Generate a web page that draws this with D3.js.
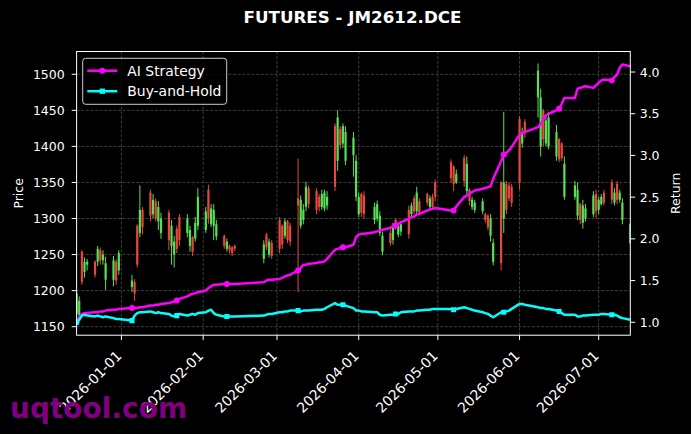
<!DOCTYPE html>
<html lang="en">
<head>
<meta charset="UTF-8">
<title>FUTURES - JM2612.DCE</title>
<script src="https://d3js.org/d3.v7.min.js"></script>
<style>
  html, body { margin: 0; padding: 0; background: #000; }
  svg { display: block; font-family: "DejaVu Sans", sans-serif; }
</style>
</head>
<body>
<svg id="chart" width="691" height="434"></svg>
<script>
// ---- data ----
const dates = [
  "2025-12-15","2025-12-16","2025-12-17","2025-12-18","2025-12-19","2025-12-22","2025-12-23","2025-12-24","2025-12-25","2025-12-26",
  "2025-12-29","2025-12-30","2025-12-31","2026-01-05","2026-01-06","2026-01-07","2026-01-08","2026-01-09","2026-01-12","2026-01-13",
  "2026-01-14","2026-01-15","2026-01-16","2026-01-19","2026-01-20","2026-01-21","2026-01-22","2026-01-23","2026-01-26","2026-01-27",
  "2026-01-28","2026-01-29","2026-01-30","2026-02-02","2026-02-03","2026-02-04","2026-02-05","2026-02-06","2026-02-09","2026-02-10",
  "2026-02-11","2026-02-12","2026-02-13","2026-02-24","2026-02-25","2026-02-26","2026-02-27","2026-03-02","2026-03-03","2026-03-04",
  "2026-03-05","2026-03-06","2026-03-09","2026-03-10","2026-03-11","2026-03-12","2026-03-13","2026-03-16","2026-03-17","2026-03-18",
  "2026-03-19","2026-03-20","2026-03-23","2026-03-24","2026-03-25","2026-03-26","2026-03-27","2026-03-30","2026-03-31","2026-04-01",
  "2026-04-02","2026-04-03","2026-04-07","2026-04-08","2026-04-09","2026-04-10","2026-04-13","2026-04-14","2026-04-15","2026-04-16",
  "2026-04-17","2026-04-20","2026-04-21","2026-04-22","2026-04-23","2026-04-24","2026-04-27","2026-04-28","2026-04-29","2026-04-30",
  "2026-05-06","2026-05-07","2026-05-08","2026-05-11","2026-05-12","2026-05-13","2026-05-14","2026-05-15","2026-05-18","2026-05-19",
  "2026-05-20","2026-05-21","2026-05-22","2026-05-25","2026-05-26","2026-05-27","2026-05-28","2026-05-29","2026-06-01","2026-06-02",
  "2026-06-03","2026-06-08","2026-06-09","2026-06-10","2026-06-11","2026-06-12","2026-06-15","2026-06-16","2026-06-17","2026-06-18",
  "2026-06-22","2026-06-23","2026-06-24","2026-06-25","2026-06-26","2026-06-29","2026-06-30","2026-07-01","2026-07-02","2026-07-03",
  "2026-07-06","2026-07-07","2026-07-08","2026-07-09","2026-07-10","2026-07-13"
];
const opens = [
  1168,1166,1254,1226,1236,1240,1240,1256,1242,1215, 1215,1240,1228,1205,1212,1290,1280,1312,1336,1306,
  1324,1296,1280,1308,1262,1250,1286,1302,1280,1262, 1274,1272,1290,1284,1340,1292,1290,1275,1276,1258,
  1262,1260,1262,1244,1278,1250,1266,1298,1290,1276, 1296,1290,1328,1290,1298,1316,1342,1338,1330,1316,
  1314,1318,1428,1380,1424,1404,1380,1388,1330,1306, 1334,1332,1298,1300,1280,1254,1280,1270,1298,1278,
  1282,1312,1306,1328,1310,1324,1334,1316,1330,1350, 1378,1372,1350,1384,1338,1340,1316,1312,1310,1306,
  1304,1276,1240,1350,1300,1348,1346,1344,1438,1404, 1434,1468,1400,1450,1404,1400,1386,1410,1404,1330,
  1330,1304,1320,1294,1300,1306,1334,1312,1320,1336, 1350,1322,1348,1326,1298,1266
];
const highs = [
  1200,1192,1256,1246,1244,1242,1262,1260,1256,1247, 1248,1244,1256,1222,1216,1292,1346,1316,1340,1334,
  1328,1324,1308,1312,1298,1276,1290,1306,1306,1290, 1276,1302,1342,1316,1347,1320,1320,1298,1278,1272,
  1264,1262,1264,1270,1280,1272,1270,1302,1292,1300, 1298,1294,1383,1332,1320,1351,1346,1342,1334,1340,
  1340,1338,1432,1450,1428,1432,1428,1420,1388,1336, 1336,1338,1322,1325,1310,1282,1284,1294,1300,1294,
  1296,1318,1322,1332,1344,1328,1336,1332,1334,1354, 1382,1374,1368,1388,1386,1342,1330,1326,1328,1308,
  1306,1306,1272,1352,1448,1352,1350,1348,1442,1426, 1438,1515,1480,1452,1444,1448,1430,1412,1406,1386,
  1352,1350,1322,1326,1320,1338,1340,1330,1334,1340, 1354,1342,1352,1340,1328,1294
];
const lows = [
  1162,1160,1208,1218,1228,1218,1234,1236,1236,1201, 1206,1208,1222,1198,1186,1232,1274,1278,1296,1300,
  1296,1284,1272,1256,1236,1232,1252,1262,1274,1254, 1248,1268,1284,1280,1293,1288,1270,1270,1258,1254,
  1252,1248,1255,1238,1256,1246,1244,1252,1258,1272, 1266,1262,1198,1286,1292,1310,1314,1306,1310,1312,
  1310,1312,1338,1366,1396,1398,1374,1358,1324,1302, 1302,1300,1292,1296,1276,1249,1262,1264,1284,1274,
  1276,1272,1302,1306,1306,1304,1318,1312,1312,1324, 1350,1338,1348,1344,1334,1318,1312,1308,1306,1294,
  1284,1268,1235,1228,1280,1306,1324,1316,1340,1398, 1412,1440,1386,1400,1400,1396,1380,1378,1380,1326,
  1326,1298,1292,1286,1296,1302,1300,1306,1318,1318, 1320,1318,1320,1322,1292,1264
];
const closes = [
  1196,1186,1212,1240,1240,1222,1258,1242,1250,1238, 1242,1214,1252,1214,1196,1236,1312,1288,1304,1326,
  1300,1316,1300,1270,1290,1268,1258,1270,1300,1284, 1254,1294,1330,1310,1300,1314,1312,1292,1262,1268,
  1256,1252,1258,1264,1260,1268,1248,1258,1264,1296, 1270,1268,1318,1326,1312,1344,1320,1312,1316,1334,
  1336,1330,1344,1440,1402,1428,1420,1412,1380,1330, 1308,1306,1316,1320,1304,1276,1266,1288,1288,1290,
  1292,1278,1318,1310,1336,1308,1322,1328,1316,1330, 1356,1348,1362,1352,1376,1324,1326,1322,1324,1298,
  1288,1300,1266,1238,1350,1312,1328,1322,1350,1420, 1418,1505,1468,1410,1436,1440,1420,1382,1384,1376,
  1346,1340,1298,1318,1314,1332,1310,1326,1330,1322, 1326,1336,1326,1336,1322,1292
];
const aiStrategy = [
  1.00,1.06,1.10,1.11,1.11,1.12,1.12,1.13,1.13,1.14, 1.15,1.15,1.16,1.17,1.17,1.17,1.18,1.18,1.20,1.20,
  1.21,1.21,1.22,1.23,1.24,1.25,1.26,1.28,1.31,1.33, 1.34,1.35,1.36,1.38,1.41,1.43,1.45,1.45,1.46,1.46,
  1.46,1.46,1.46,1.48,1.50,1.51,1.51,1.52,1.53,1.55, 1.56,1.57,1.62,1.65,1.69,1.69,1.70,1.71,1.72,1.72,
  1.73,1.76,1.87,1.88,1.89,1.90,1.90,1.93,2.02,2.05, 2.06,2.06,2.08,2.09,2.10,2.11,2.13,2.15,2.16,2.18,
  2.20,2.24,2.26,2.27,2.29,2.30,2.34,2.35,2.36,2.37, 2.34,2.34,2.39,2.50,2.52,2.54,2.56,2.58,2.60,2.61,
  2.62,2.63,2.72,2.93,3.01,3.03,3.06,3.10,3.25,3.27, 3.28,3.34,3.38,3.43,3.48,3.50,3.54,3.56,3.62,3.69,
  3.69,3.80,3.81,3.82,3.83,3.81,3.84,3.87,3.90,3.91, 3.90,3.94,3.97,4.05,4.09,4.07
];
const buyAndHold = [
  1.00,1.03,1.08,1.09,1.08,1.07,1.08,1.07,1.06,1.07, 1.05,1.04,1.04,1.02,1.08,1.11,1.12,1.12,1.13,1.12,
  1.11,1.12,1.11,1.10,1.08,1.07,1.08,1.10,1.08,1.09, 1.10,1.09,1.11,1.12,1.14,1.15,1.11,1.09,1.07,1.07,
  1.07,1.07,1.07,1.08,1.09,1.10,1.10,1.12,1.12,1.13, 1.13,1.14,1.14,1.13,1.14,1.14,1.14,1.15,1.15,1.15,
  1.16,1.18,1.23,1.21,1.21,1.21,1.20,1.17,1.14,1.14, 1.13,1.13,1.12,1.12,1.09,1.08,1.09,1.09,1.10,1.10,
  1.12,1.13,1.13,1.13,1.14,1.14,1.15,1.15,1.16,1.16, 1.16,1.15,1.16,1.18,1.17,1.16,1.15,1.14,1.12,1.11,
  1.10,1.08,1.06,1.12,1.12,1.13,1.14,1.16,1.22,1.22, 1.21,1.18,1.17,1.17,1.16,1.16,1.14,1.13,1.11,1.09,
  1.09,1.07,1.07,1.08,1.08,1.09,1.09,1.09,1.10,1.10, 1.09,1.09,1.08,1.06,1.05,1.03
];
const monthTicks = ["2026-01-01","2026-02-01","2026-03-01","2026-04-01","2026-05-01","2026-06-01","2026-07-01"];
const priceTicks = [1150, 1200, 1250, 1300, 1350, 1400, 1450, 1500];
const returnTicks = [1.0, 1.5, 2.0, 2.5, 3.0, 3.5, 4.0];
const seriesNames = ["AI Strategy", "Buy-and-Hold"];

// ---- layout ----
const svg = d3.select("#chart");
const W = 691, H = 434;
const plot = { left: 76.6, right: 630.3, top: 51.5, bottom: 335.2 };
const fg = "#ffffff";
const upColor = "#55e055", downColor = "#e5483f";
const aiColor = "#ff00ff", bhColor = "#00ffff";
const markEvery = 13;

svg.append("rect").attr("width", W).attr("height", H).attr("fill", "#000");

const parse = d3.timeParse("%Y-%m-%d");
const days = dates.map(parse);

const x = d3.scaleTime()
  .domain([parse("2025-12-15"), parse("2026-07-13")])
  .range([plot.left, plot.right]);
const yPrice = d3.scaleLinear().domain([1138.2, 1531.6]).range([plot.bottom, plot.top]);
const yRet = d3.scaleLinear().domain([0.845, 4.246]).range([plot.bottom, plot.top]);

svg.append("clipPath").attr("id", "clip")
  .append("rect")
  .attr("x", plot.left).attr("y", plot.top)
  .attr("width", plot.right - plot.left).attr("height", plot.bottom - plot.top);

// grid
const grid = svg.append("g").attr("stroke", "#4d4d4d").attr("stroke-width", 0.8)
  .attr("stroke-dasharray", "3,1.6");
grid.selectAll("line.v").data(monthTicks.map(parse)).enter().append("line")
  .attr("x1", d => x(d)).attr("x2", d => x(d))
  .attr("y1", plot.top).attr("y2", plot.bottom);
grid.selectAll("line.h").data(priceTicks).enter().append("line")
  .attr("x1", plot.left).attr("x2", plot.right)
  .attr("y1", d => yPrice(d)).attr("y2", d => yPrice(d));

// candlesticks
const candles = days.map((d, i) => ({ d, o: opens[i], h: highs[i], l: lows[i], c: closes[i] }));
const cg = svg.append("g").attr("clip-path", "url(#clip)");
const bodyW = 2.2;
cg.selectAll("line.wick").data(candles).enter().append("line")
  .attr("x1", d => x(d.d)).attr("x2", d => x(d.d))
  .attr("y1", d => yPrice(d.h)).attr("y2", d => yPrice(d.l))
  .attr("stroke", d => d.c >= d.o ? upColor : downColor)
  .attr("stroke-width", 1);
cg.selectAll("rect.body").data(candles).enter().append("rect")
  .attr("x", d => x(d.d) - bodyW / 2)
  .attr("width", bodyW)
  .attr("y", d => yPrice(Math.max(d.o, d.c)))
  .attr("height", d => Math.max(1, Math.abs(yPrice(d.o) - yPrice(d.c))))
  .attr("fill", d => d.c >= d.o ? upColor : downColor);

// return lines
const lg = svg.append("g").attr("clip-path", "url(#clip)");
function drawSeries(values, color, shape) {
  const pts = days.map((d, i) => ({ d, v: values[i], i }));
  lg.append("path").datum(pts)
    .attr("fill", "none").attr("stroke", color).attr("stroke-width", 2.5)
    .attr("stroke-linejoin", "round")
    .attr("d", d3.line().x(p => x(p.d)).y(p => yRet(p.v)));
  const marks = pts.filter(p => p.i % markEvery === 0);
  lg.selectAll(null).data(marks).enter().append("path")
    .attr("transform", p => `translate(${x(p.d)},${yRet(p.v)})`)
    .attr("d", d3.symbol().type(shape).size(shape === d3.symbolSquare ? 26 : 28))
    .attr("fill", color);
}
drawSeries(aiStrategy, aiColor, d3.symbolCircle);
drawSeries(buyAndHold, bhColor, d3.symbolSquare);

// frame
svg.append("rect")
  .attr("x", plot.left).attr("y", plot.top)
  .attr("width", plot.right - plot.left).attr("height", plot.bottom - plot.top)
  .attr("fill", "none").attr("stroke", fg).attr("stroke-width", 1);

// axes
const tickLen = 4.9;
const xAxis = svg.append("g");
monthTicks.forEach(t => {
  const tx = x(parse(t));
  xAxis.append("line").attr("x1", tx).attr("x2", tx)
    .attr("y1", plot.bottom).attr("y2", plot.bottom + tickLen)
    .attr("stroke", fg).attr("stroke-width", 1);
  xAxis.append("text")
    .attr("transform", `translate(${tx + 1},${plot.bottom + 21.5}) rotate(-45)`)
    .attr("text-anchor", "end")
    .attr("fill", fg).attr("font-size", 13.9)
    .text(t);
});

const yAxisL = svg.append("g");
priceTicks.forEach(t => {
  const ty = yPrice(t);
  yAxisL.append("line").attr("x1", plot.left - tickLen).attr("x2", plot.left)
    .attr("y1", ty).attr("y2", ty).attr("stroke", fg);
  yAxisL.append("text").attr("x", plot.left - tickLen - 7).attr("y", ty).attr("dy", "0.36em")
    .attr("text-anchor", "end").attr("fill", fg).attr("font-size", 12.5).text(t);
});

const yAxisR = svg.append("g");
returnTicks.forEach(t => {
  const ty = yRet(t);
  yAxisR.append("line").attr("x1", plot.right).attr("x2", plot.right + tickLen)
    .attr("y1", ty).attr("y2", ty).attr("stroke", fg);
  yAxisR.append("text").attr("x", plot.right + tickLen + 4.5).attr("y", ty).attr("dy", "0.36em")
    .attr("text-anchor", "start").attr("fill", fg).attr("font-size", 12.5).text(t.toFixed(1));
});

// axis labels and title
const midY = (plot.top + plot.bottom) / 2;
svg.append("text").attr("transform", `translate(22.5,${midY}) rotate(-90)`)
  .attr("text-anchor", "middle").attr("fill", fg).attr("font-size", 12.5).text("Price");
svg.append("text").attr("transform", `translate(680,${midY}) rotate(-90)`)
  .attr("text-anchor", "middle").attr("fill", fg).attr("font-size", 12.5).text("Return");
svg.append("text").attr("x", 352.5).attr("y", 23.3)
  .attr("text-anchor", "middle").attr("fill", fg)
  .attr("font-size", 16.7).attr("font-weight", "bold")
  .text("FUTURES - JM2612.DCE");

// legend
const leg = svg.append("g");
leg.append("rect").attr("x", 82.7).attr("y", 58.3).attr("width", 144).attr("height", 46)
  .attr("rx", 3).attr("fill", "#000").attr("fill-opacity", 0.8)
  .attr("stroke", "#cccccc").attr("stroke-width", 1);
[[aiColor, d3.symbolCircle], [bhColor, d3.symbolSquare]].forEach(([color, shape], i) => {
  const ly = 70.7 + i * 20.5;
  leg.append("line").attr("x1", 87.3).attr("x2", 117.3).attr("y1", ly).attr("y2", ly)
    .attr("stroke", color).attr("stroke-width", 2.5);
  leg.append("path").attr("transform", `translate(102.3,${ly})`)
    .attr("d", d3.symbol().type(shape).size(28)).attr("fill", color);
  leg.append("text").attr("x", 127.3).attr("y", ly).attr("dy", "0.36em")
    .attr("fill", fg).attr("font-size", 13.9).text(seriesNames[i]);
});

// watermark (drawn over the date labels, as in the reference)
svg.append("text").attr("x", 10).attr("y", 418)
  .attr("fill", "#800080").attr("font-size", 28).attr("font-weight", "bold")
  .text("uqtool.com");
</script>
</body>
</html>
